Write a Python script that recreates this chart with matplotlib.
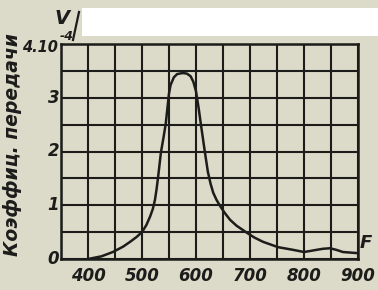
import matplotlib
matplotlib.use("Agg")
import matplotlib.pyplot as plt
from matplotlib.patches import Rectangle
from matplotlib.lines import Line2D

freq = [400, 425, 446, 465, 478, 490, 500, 508, 515, 520, 524, 527, 530, 535, 540, 544,
        547, 550, 553, 559, 565, 575, 583, 590, 595, 600, 605, 608, 612, 616, 622, 627,
        632, 638, 645, 653, 663, 675, 694, 708, 724, 738, 752, 780, 800, 812, 823, 835,
        848, 860, 872, 898]
gain = [0.0, 0.05, 0.13, 0.23, 0.32, 0.41, 0.5, 0.63, 0.79, 0.93, 1.1, 1.3, 1.54, 1.98,
        2.27, 2.52, 2.8, 3.08, 3.24, 3.38, 3.44, 3.46, 3.45, 3.4, 3.3, 3.12, 2.8, 2.58,
        2.3, 2.02, 1.62, 1.4, 1.23, 1.1, 0.98, 0.86, 0.73, 0.62, 0.49, 0.4, 0.32, 0.27,
        0.22, 0.17, 0.13, 0.15, 0.17, 0.19, 0.2, 0.17, 0.13, 0.11]
x_ticks = [400, 500, 600, 700, 800, 900]
x_labels = ["400", "500", "600", "700", "800", "900"]
y_ticks = [0, 1, 2, 3]
y_labels = ["0", "1", "2", "3"]
y_label = "Коэффиц. передачи"

bg = "#dcdac8"
ink = "#1c1c1a"
fam = ["Liberation Sans Narrow", "DejaVu Sans"]

fig = plt.figure(figsize=(3.78, 2.90), dpi=100)
fig.patch.set_facecolor(bg)
ax = fig.add_axes([61/378, 1-259/290, (358-61)/378, (259-44)/290])
ax.set_facecolor(bg)
ax.set_xlim(350, 900)
ax.set_ylim(0, 4)
ax.set_xticks([350 + 50*i for i in range(12)])
ax.set_yticks([0.5*i for i in range(9)])
ax.grid(True, color=ink, lw=1.5)
ax.tick_params(length=0, labelleft=False, labelbottom=False)
for s in ax.spines.values():
    s.set_color(ink)
    s.set_linewidth(1.8)
ax.plot(freq, gain, color=ink, lw=1.8, zorder=5)

tf = dict(family=fam, fontweight="bold", fontstyle="italic", color=ink, fontsize=12)
for xv, lab in zip(x_ticks, x_labels):
    ax.text(xv, -0.14, lab, ha="center", va="top", **tf)
for yv, lab in zip(y_ticks, y_labels):
    ax.text(347, yv, lab, ha="right", va="center", **tf)
fig.text(58/378, 1-47/290, "4.10", ha="right", va="center", **dict(tf, fontsize=10.5))
fig.text(67/378, 1-36/290, "-4", ha="center", va="center", **dict(tf, fontsize=9))
fig.text(13/378, 0.50, y_label, rotation=90, ha="center", va="center", **dict(tf, fontsize=13.5))
fig.text(62/378, 1-19/290, "V", ha="center", va="center", **dict(tf, fontsize=14))
fig.add_artist(Line2D([73/378, 79/378], [1-40/290, 1-12/290], color=ink, lw=1.6))
fig.text(366/378, 1-243/290, "F", ha="center", va="center", **dict(tf, fontsize=13))
fig.add_artist(Rectangle((82/378, 1-36/290), 296/378, 28/290, transform=fig.transFigure,
                         facecolor="white", edgecolor="none", zorder=10))

fig.savefig("out.png", dpi=100, facecolor=bg)
